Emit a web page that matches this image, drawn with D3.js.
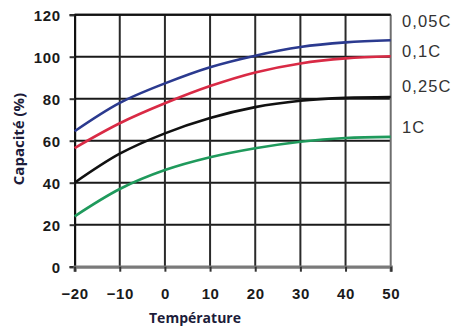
<!DOCTYPE html>
<html>
<head>
<meta charset="utf-8">
<script src="https://cdn.jsdelivr.net/npm/d3@7"></script>
<style>
  html, body { margin: 0; padding: 0; background: #fff; }
  svg { display: block; }
</style>
</head>
<body>
<svg id="chart" width="460" height="332"></svg>
<script>
// Temperature steps (°C) and capacity (%) per discharge rate
const temperatures = [-20, -10, 0, 10, 20, 30, 40, 50];
const rate005C = [64.5, 78, 87.3, 95, 100.5, 104.6, 106.8, 107.8];
const rate01C  = [56.5, 68.3, 77.8, 86, 92.5, 96.8, 99.2, 100.2];
const rate025C = [40, 53.8, 63.5, 70.8, 76, 79, 80.4, 80.8];
const rate1C   = [24, 37, 46, 52.1, 56.4, 59.5, 61.3, 61.8];
const seriesNames = ["0,05C", "0,1C", "0,25C", "1C"];
const xTicks = [-20, -10, 0, 10, 20, 30, 40, 50];
const yTicks = [0, 20, 40, 60, 80, 100, 120];

const series = [
  { name: seriesNames[0], values: rate005C, color: "#2b3a8f", labelY: 27 },
  { name: seriesNames[1], values: rate01C,  color: "#d92a45", labelY: 57 },
  { name: seriesNames[2], values: rate025C, color: "#111111", labelY: 92 },
  { name: seriesNames[3], values: rate1C,   color: "#1f9a5c", labelY: 133 }
];

const svg = d3.select("#chart");
const x = d3.scaleLinear().domain([-20, 50]).range([74.6, 390.7]);
const y = d3.scaleLinear().domain([0, 120]).range([266.7, 14.7]);

// grid: horizontal lines
svg.append("g").selectAll("line")
  .data(yTicks.filter(d => d > 0))
  .join("line")
  .attr("x1", x(-20)).attr("x2", x(50))
  .attr("y1", d => y(d)).attr("y2", d => y(d))
  .attr("stroke", "#1a1a1a").attr("stroke-width", 2);

// grid: vertical lines
svg.append("g").selectAll("line")
  .data(xTicks.filter(d => d > -20 && d < 50))
  .join("line")
  .attr("x1", d => x(d)).attr("x2", d => x(d))
  .attr("y1", y(120)).attr("y2", y(0))
  .attr("stroke", "#2a2a2a").attr("stroke-width", 2);

// right frame edge
svg.append("line")
  .attr("x1", x(50)).attr("x2", x(50))
  .attr("y1", y(120)).attr("y2", y(0))
  .attr("stroke", "#6e6e6e").attr("stroke-width", 2);

// left axis with ticks
const yAxis = svg.append("g")
  .attr("transform", `translate(${x(-20)},0)`)
  .call(d3.axisLeft(y).tickValues(yTicks).tickSize(5).tickPadding(9).tickFormat(d3.format("d")));
yAxis.select(".domain").attr("stroke", "#111").attr("stroke-width", 2.2);
yAxis.selectAll(".tick line").attr("stroke", "#333").attr("stroke-width", 2);
yAxis.selectAll(".tick text")
  .attr("dy", "0.38em")
  .style("font-family", "'Liberation Sans', Arial, sans-serif")
  .style("font-size", "15px").style("font-weight", "bold")
  .style("letter-spacing", "0.6px")
  .attr("fill", "#1a1a1a");

// bottom axis with ticks
const xAxis = svg.append("g")
  .attr("transform", `translate(0,${y(0)})`)
  .call(d3.axisBottom(x).tickValues(xTicks).tickSize(5).tickPadding(17).tickFormat(d3.format("d")));
xAxis.select(".domain").attr("stroke", "#7a7a7a").attr("stroke-width", 3.2);
xAxis.selectAll(".tick line").attr("stroke", "#333").attr("stroke-width", 2);
xAxis.selectAll(".tick text")
  .style("font-family", "'Liberation Sans', Arial, sans-serif")
  .style("font-size", "15px").style("font-weight", "bold")
  .style("letter-spacing", "0.6px")
  .attr("fill", "#1a1a1a");

// top frame edge
svg.append("line")
  .attr("x1", x(-20)).attr("x2", x(50))
  .attr("y1", y(120)).attr("y2", y(120))
  .attr("stroke", "#111").attr("stroke-width", 2);

// capacity curves
const line = d3.line()
  .x((d, i) => x(temperatures[i]))
  .y(d => y(d))
  .curve(d3.curveCatmullRom.alpha(0.5));

svg.append("g").selectAll("path")
  .data(series)
  .join("path")
  .attr("d", d => line(d.values))
  .attr("fill", "none")
  .attr("stroke", d => d.color)
  .attr("stroke-width", 2.6);

// rate labels on the right
svg.append("g").selectAll("text")
  .data(series)
  .join("text")
  .attr("x", 402)
  .attr("y", d => d.labelY)
  .text(d => d.name)
  .style("font-family", "'Liberation Sans', Arial, sans-serif")
  .style("font-size", "16.5px")
  .style("letter-spacing", "1.1px")
  .attr("fill", "#333");

// axis titles
svg.append("text")
  .attr("x", 149).attr("y", 323)
  .text("Température")
  .style("font-family", "'Open Sans', sans-serif")
  .style("font-size", "14px").style("font-weight", "bold")
  .attr("fill", "#1c1c3a");

svg.append("text")
  .attr("transform", "translate(24,139) rotate(-90)")
  .attr("text-anchor", "middle")
  .text("Capacité (%)")
  .style("font-family", "'Open Sans', sans-serif")
  .style("font-size", "15px").style("font-weight", "bold")
  .attr("fill", "#1c1c3a");
</script>
</body>
</html>
